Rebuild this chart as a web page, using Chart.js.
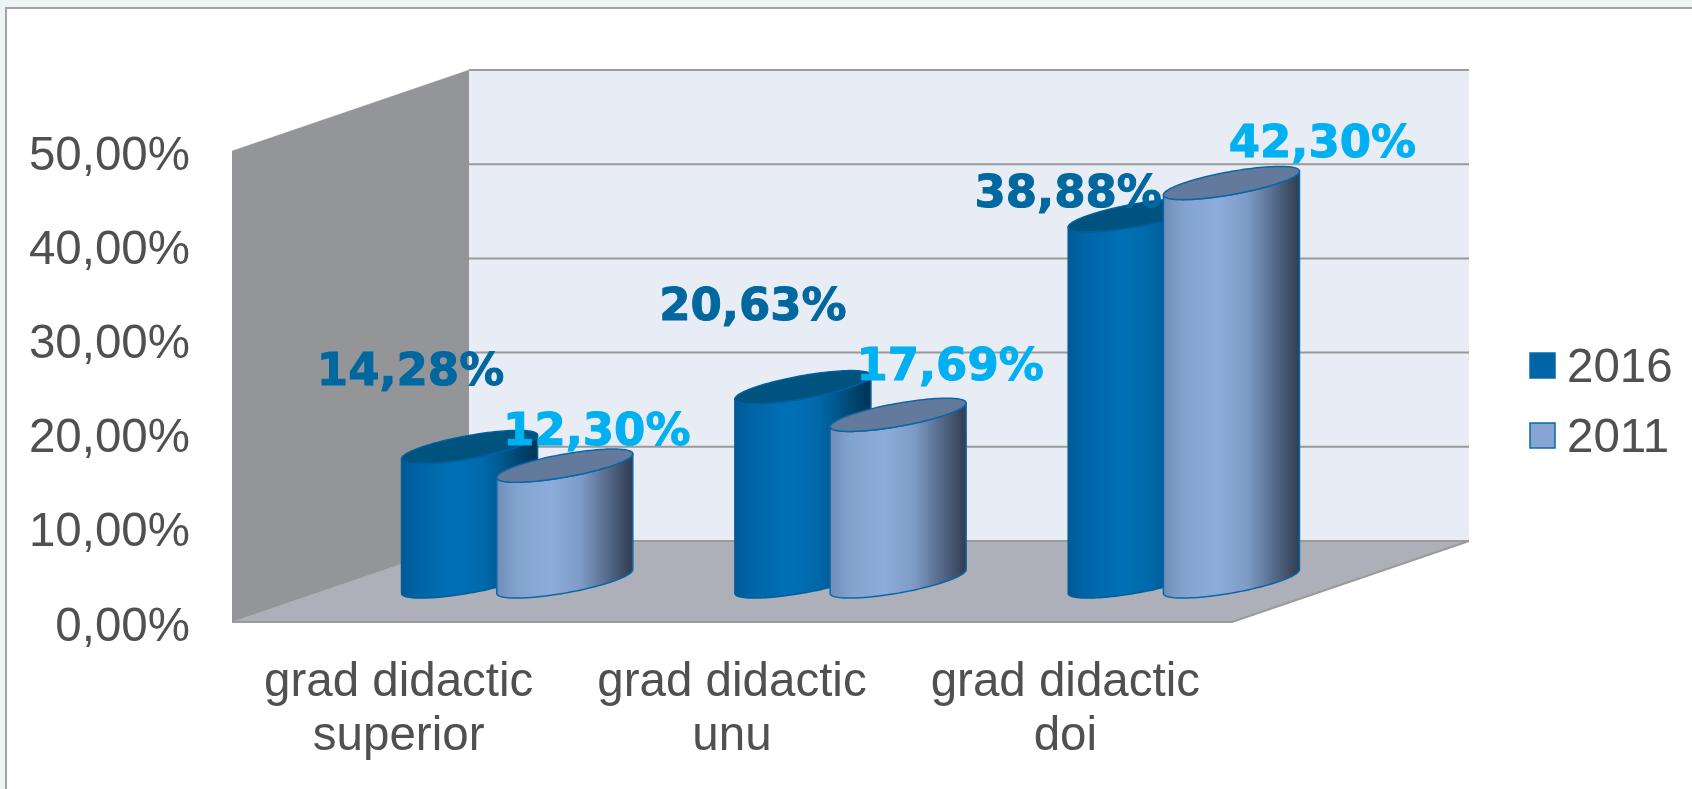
<!DOCTYPE html>
<html lang="en">
<head>
<meta charset="UTF-8">
<title>Grad didactic</title>
<script src="https://cdn.jsdelivr.net/npm/chart.js@4/dist/chart.umd.min.js"></script>
<style>
    html, body { margin: 0; padding: 0; background: #eef4f4; }
    #panel { position: absolute; left: 5px; top: 7px; width: 1687px; height: 782px; background: #fff; border-left: 2px solid #a3a5a5; border-top: 2px solid #a3a5a5; box-sizing: border-box; }
    #chart { position: absolute; left: 0; top: 0; }
</style>
</head>
<body>
<div id="panel"></div>
<canvas id="chart" width="1692" height="789"></canvas>

<script>
    const categories = [['grad didactic', 'superior'], ['grad didactic', 'unu'], ['grad didactic', 'doi']];
    const values2016 = [14.28, 20.63, 38.88];
    const values2011 = [12.30, 17.69, 42.30];
    const yTicksMax = 50;
    const yTicksStep = 10;

    // offsets of the value labels from the top of their cylinder (label = [dx, dy])
    const labelShift2016 = [[-59, -74], [-50, -79], [-68, -20]];
    const labelShift2011 = [[32, -32], [52, -47], [91, -38]];

    // oblique projection: how far the back wall sits from the front plane
    const depthX = 237;
    const depthY = -81;
    const fontSans = '"Liberation Sans", Arial, sans-serif';
    const textGrey = '#505050';

    const looks = [
        { stops: [[0, '#005a96'], [0.12, '#0064a6'], [0.4, '#0071b7'], [0.62, '#0068a8'], [0.8, '#004f80'], [1, '#003252']],
          top: '#00527f', edge: '#005f9c', label: '#00679f' },
        { stops: [[0, '#6f8db7'], [0.15, '#83a3cf'], [0.4, '#8dacdb'], [0.62, '#7d9bc6'], [0.85, '#4f617f'], [1, '#303c50']],
          top: '#647a9c', edge: '#0a67a6', label: '#00b0f0' }
    ];

    function commaPercent(v) {
        return v.toFixed(2).replace('.', ',') + '%';
    }

    const box3d = {
        id: 'box3d',
        beforeDatasetsDraw(chart) {
            const { ctx, chartArea: a, scales: { y } } = chart;
            const bx = a.left + depthX, br = a.right + depthX;
            const by = a.top + depthY, bb = a.bottom + depthY;
            ctx.save();
            // back wall
            ctx.fillStyle = '#e8ecf5';
            ctx.fillRect(bx, by, br - bx, bb - by);
            // left wall
            ctx.fillStyle = '#939598';
            ctx.beginPath();
            ctx.moveTo(a.left, a.top);
            ctx.lineTo(bx, by);
            ctx.lineTo(bx, bb);
            ctx.lineTo(a.left, a.bottom);
            ctx.closePath();
            ctx.fill();
            // floor
            ctx.fillStyle = '#adb0b8';
            ctx.beginPath();
            ctx.moveTo(a.left, a.bottom);
            ctx.lineTo(bx, bb);
            ctx.lineTo(br, bb);
            ctx.lineTo(a.right, a.bottom);
            ctx.closePath();
            ctx.fill();
            // grid lines from the value axis, carried onto the walls
            y.ticks.forEach(t => {
                const py = y.getPixelForValue(t.value);
                ctx.strokeStyle = '#9a8f8a';
                ctx.globalAlpha = 0.35;
                ctx.lineWidth = 1;
                ctx.beginPath();
                ctx.moveTo(a.left, py);
                ctx.lineTo(bx, py + depthY);
                ctx.stroke();
                ctx.globalAlpha = 1;
                ctx.strokeStyle = '#9a9a9a';
                ctx.lineWidth = 2;
                ctx.beginPath();
                ctx.moveTo(bx, py + depthY);
                ctx.lineTo(br, py + depthY);
                ctx.stroke();
            });
            ctx.strokeStyle = '#9a9a9a';
            ctx.lineWidth = 2;
            ctx.beginPath();
            ctx.moveTo(a.left, a.bottom);
            ctx.lineTo(a.right, a.bottom);
            ctx.lineTo(br, bb);
            ctx.stroke();
            ctx.restore();
        },
        beforeDatasetDraw() {
            // the flat bars are replaced by the cylinders below
            return false;
        },
        afterDatasetsDraw(chart) {
            const { ctx } = chart;
            const metas = chart.getSortedVisibleDatasetMetas();
            metas.forEach((meta, ds) => {
                meta.data.forEach(bar => drawCylinder(ctx, bar, looks[ds]));
            });
            const shifts = [labelShift2016, labelShift2011];
            metas.forEach((meta, ds) => {
                meta.data.forEach((bar, i) => {
                    const value = chart.data.datasets[ds].data[i];
                    const cx = bar.x + depthX / 2 + shifts[ds][i][0];
                    const cy = bar.y + depthY / 2 + shifts[ds][i][1];
                    ctx.save();
                    ctx.font = 'bold 45px "DejaVu Sans", sans-serif';
                    ctx.textAlign = 'center';
                    ctx.textBaseline = 'middle';
                    ctx.fillStyle = looks[ds].label;
                    ctx.strokeStyle = looks[ds].label;
                    ctx.lineWidth = 1;
                    ctx.fillText(commaPercent(value), cx, cy);
                    ctx.strokeText(commaPercent(value), cx, cy);
                    ctx.restore();
                });
            });
            drawLegend(chart);
        }
    };

    // a round bar: circle in the floor plane seen through the oblique projection
    function drawCylinder(ctx, bar, look) {
        const wx = bar.width / 2;
        const hx = wx * 1.02;
        const hy = hx * depthY / depthX;
        const cx = bar.x + depthX / 2;
        const topY = bar.y + depthY / 2;
        const baseY = bar.base + depthY / 2;
        const tLeft = Math.PI + Math.atan2(hx, wx);
        const halfW = Math.hypot(wx, hx);
        const px = (cy, t) => [cx + wx * Math.cos(t) + hx * Math.sin(t), cy + hy * Math.sin(t)];

        const grad = ctx.createLinearGradient(cx - halfW, 0, cx + halfW, 0);
        look.stops.forEach(s => grad.addColorStop(s[0], s[1]));

        ctx.save();
        ctx.lineWidth = 1.5;
        ctx.strokeStyle = look.edge;
        ctx.lineJoin = 'round';

        // body: along the top from the left tangent, down, back round the front of the base
        ctx.beginPath();
        for (let k = 0; k <= 60; k++) {
            const p = px(topY, tLeft + Math.PI * k / 60);
            k ? ctx.lineTo(p[0], p[1]) : ctx.moveTo(p[0], p[1]);
        }
        for (let k = 0; k <= 60; k++) {
            const p = px(baseY, tLeft + Math.PI - Math.PI * k / 60);
            ctx.lineTo(p[0], p[1]);
        }
        ctx.closePath();
        ctx.fillStyle = grad;
        ctx.fill();
        ctx.stroke();

        // top cap
        ctx.beginPath();
        for (let k = 0; k <= 120; k++) {
            const p = px(topY, 2 * Math.PI * k / 120);
            k ? ctx.lineTo(p[0], p[1]) : ctx.moveTo(p[0], p[1]);
        }
        ctx.closePath();
        ctx.fillStyle = look.top;
        ctx.fill();
        ctx.stroke();
        ctx.restore();
    }

    // the built-in legend cannot hold its text this close to the swatch
    function drawLegend(chart) {
        const { ctx } = chart;
        ctx.save();
        ctx.font = '47.5px ' + fontSans;
        ctx.textAlign = 'left';
        ctx.textBaseline = 'alphabetic';
        chart.data.datasets.forEach((ds, i) => {
            const y = 353 + i * 70;
            ctx.fillStyle = ds.backgroundColor;
            ctx.fillRect(1530, y, 25, 25);
            ctx.strokeStyle = ds.borderColor;
            ctx.lineWidth = 1.5;
            ctx.strokeRect(1530, y, 25, 25);
            ctx.fillStyle = textGrey;
            ctx.fillText(ds.label, 1567, y + 29);
        });
        ctx.restore();
    }

    new Chart(document.getElementById('chart').getContext('2d'), {
        type: 'bar',
        data: {
            labels: categories,
            datasets: [
                { label: '2016', data: values2016, backgroundColor: '#0065a8', borderColor: '#0a6aa8' },
                { label: '2011', data: values2011, backgroundColor: '#87a5d2', borderColor: '#0a67a6' }
            ]
        },
        plugins: [box3d],
        options: {
            responsive: false,
            animation: false,
            layout: { padding: { top: 151, right: 460, bottom: 0, left: 0 } },
            datasets: { bar: { categoryPercentage: 2 / 3.5, barPercentage: 1 } },
            scales: {
                x: {
                    grid: { display: false },
                    border: { display: false },
                    ticks: {
                        color: textGrey,
                        padding: 26,
                        autoSkip: false,
                        maxRotation: 0,
                        font: { family: fontSans, size: 47.5, lineHeight: 1.13 }
                    },
                    afterFit(s) { s.height = 167; }
                },
                y: {
                    min: 0,
                    max: yTicksMax,
                    grid: { display: false },
                    border: { display: false },
                    ticks: {
                        stepSize: yTicksStep,
                        color: textGrey,
                        padding: 34,
                        labelOffset: 5.5,
                        font: { family: fontSans, size: 47.5 },
                        callback: v => commaPercent(v)
                    },
                    afterFit(s) { s.width = 232; }
                }
            },
            plugins: {
                tooltip: { enabled: false },
                legend: { display: false }
            }
        }
    });
</script>
</body>
</html>
